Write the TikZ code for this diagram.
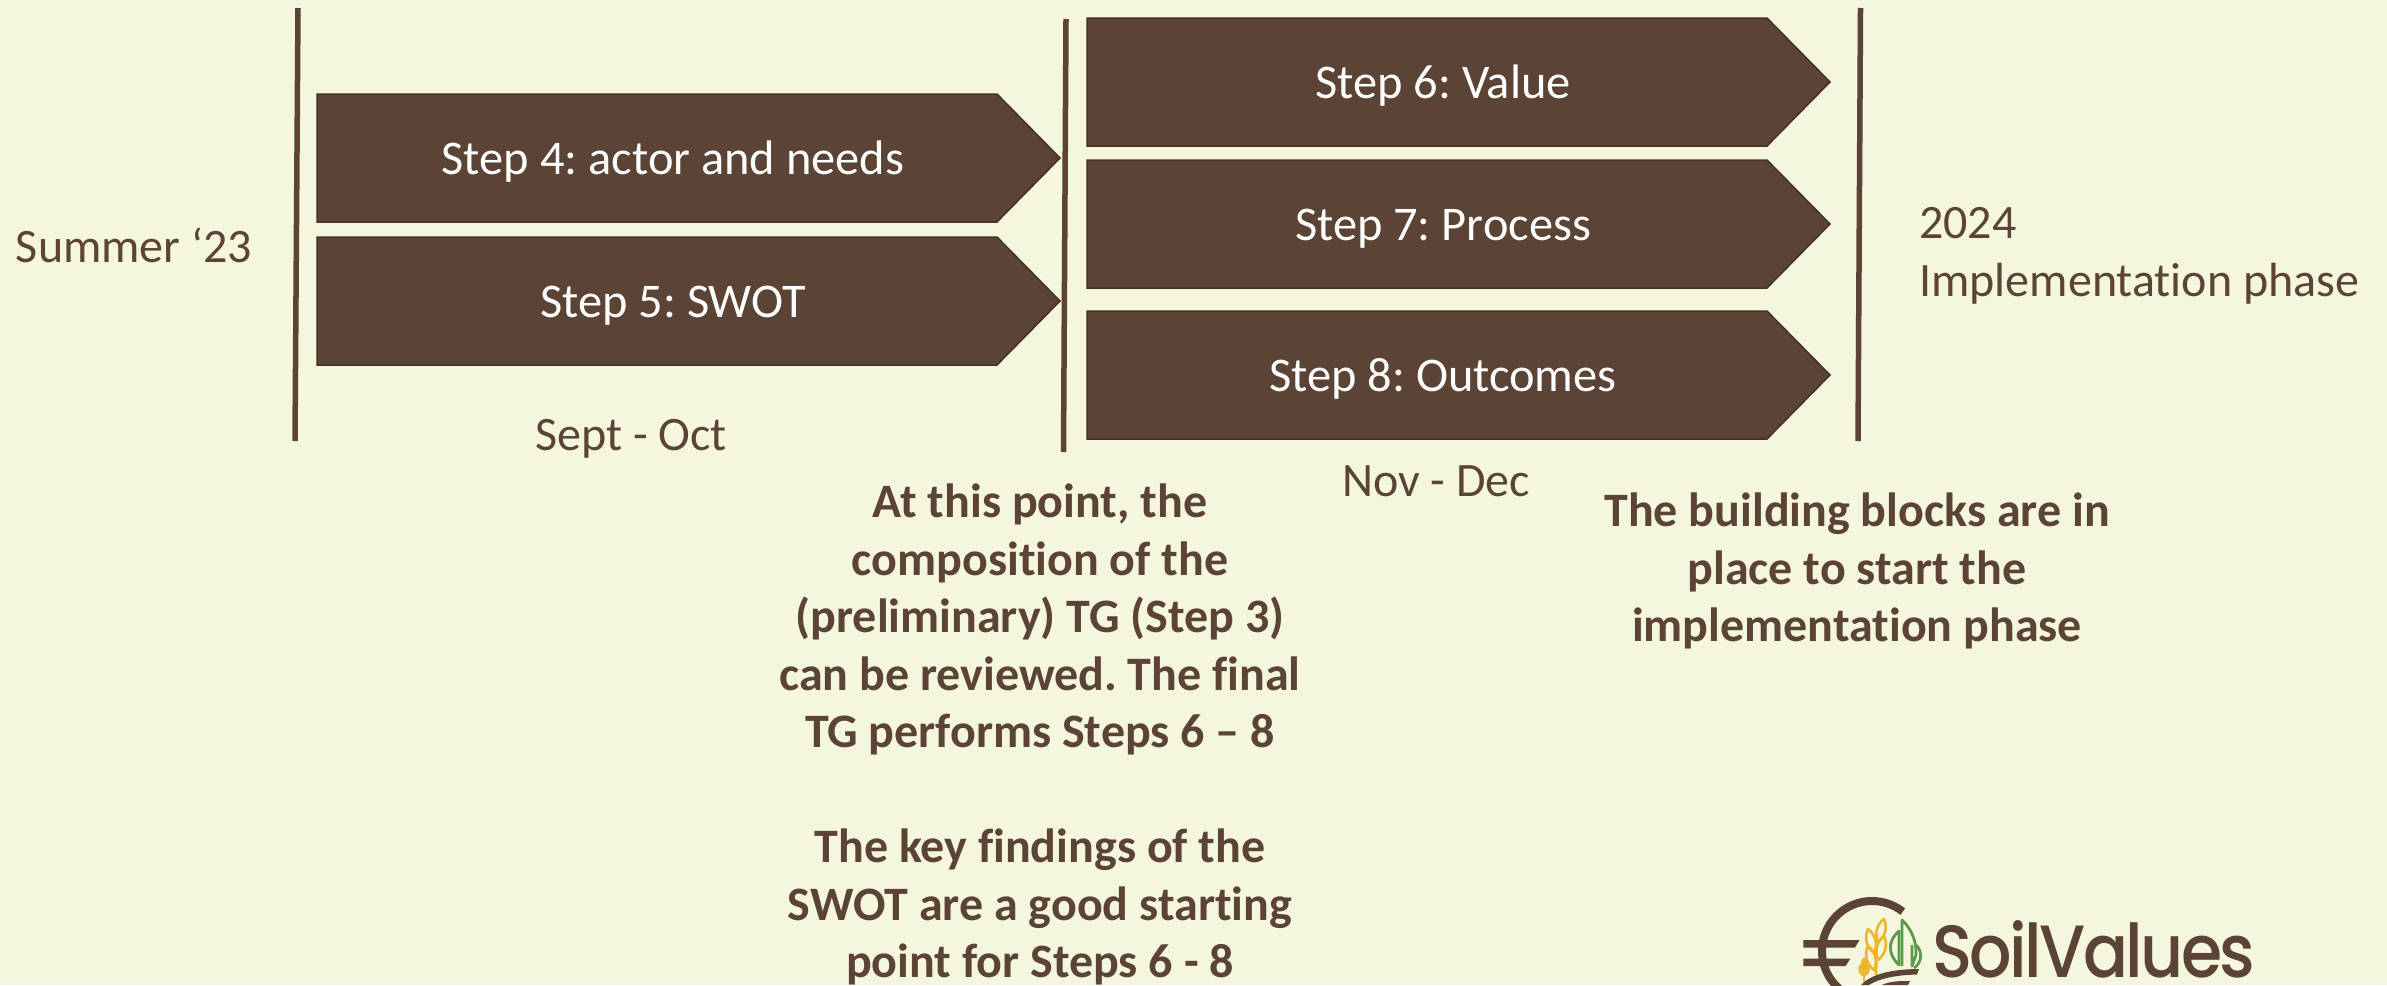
\documentclass[tikz,border=0pt]{standalone}
\usepackage{fontspec}
\setmainfont[Ligatures=CommonOff]{Carlito}
\newfontfamily\logofont[LetterSpace=-4]{Poppins Medium}
\definecolor{bgc}{HTML}{F4F7DC}
\definecolor{brn}{HTML}{5B4335}
\definecolor{brnd}{HTML}{453025}
\definecolor{wheat}{HTML}{EDB62B}
\definecolor{leaf}{HTML}{5E9A4E}
\tikzset{
  x=1pt,y=-1pt,
  stepbox/.style={fill=brn,draw=brnd,line width=1.5pt,line join=miter},
  steplabel/.style={text=white,font=\fontsize{48.4}{48}\selectfont,anchor=base,inner sep=0pt},
  plainlabel/.style={text=brn,font=\fontsize{48}{48}\selectfont,inner sep=0pt},
  notelabel/.style={text=brn,font=\fontsize{48}{57.5}\selectfont\bfseries,align=center,inner sep=0pt},
  divider/.style={draw=brn,line width=5.5pt},
  wheatline/.style={draw=wheat,line width=2.6pt,line join=round},
  leafline/.style={draw=leaf,line width=2.8pt,line join=round},
}
\newcommand{\stepshape}[7]{% name, left, top, bottom, shoulder, tip, text
  \draw[stepbox] (#2,#3) -- (#5,#3) -- (#6,{(#3+#4)/2}) -- (#5,#4) -- (#2,#4) -- cycle;
  \node[steplabel] (#1) at ({(#2+#5)/2+16},{(#3+#4)/2+16}) {#7};
}
\newcommand{\grain}[3]{\draw[wheatline] #1 to[bend left=#3] #2 to[bend left=#3] cycle;}
\begin{document}
\begin{tikzpicture}
\frenchspacing
\useasboundingbox (0,0) rectangle (2387,985);
\clip (0,0) rectangle (2387,985);
\fill[bgc] (0,0) rectangle (2387,985);
% dividers
\draw[divider] (298,8) -- (295,441);
\draw[divider] (1066,19) -- (1063.5,452);
\draw[divider] (1860.5,8) -- (1858,441);
% steps
\stepshape{s4}{317}{94}{222}{997}{1060}{Step 4: actor and needs}
\stepshape{s5}{317}{237}{365}{997}{1060}{Step 5: SWOT}
\stepshape{s6}{1087}{18}{146}{1767}{1830}{Step 6: Value}
\stepshape{s7}{1087}{160}{288}{1767}{1830}{Step 7: Process}
\stepshape{s8}{1087}{311}{439}{1767}{1830}{Step 8: Outcomes}
% labels
\node[plainlabel,anchor=center] (t1) at (134,245) {Summer ‘23};
\node[plainlabel,anchor=center] (t2) at (631,439) {Sept - Oct};
\node[plainlabel,anchor=center] (t3) at (1436,481) {Nov - Dec};
\node[plainlabel,anchor=west] (t4) at (1919,223) {2024};
\node[plainlabel,anchor=west] (t5) at (1919,284) {Implementation phase};
\node[notelabel,anchor=north] (n1) at (1040,484) {At this point, the\\composition of the\\(preliminary) TG (Step 3)\\can be reviewed. The final\\TG performs Steps 6 – 8\\[57.5pt]The key findings of the\\SWOT are a good starting\\point for Steps 6 - 8};
\node[notelabel,anchor=north] (n2) at (1857,493) {The building blocks are in\\place to start the\\implementation phase};
% logo wordmark
\node[text=brn,font=\logofont\fontsize{74}{74}\selectfont,anchor=base west,inner sep=0pt,xscale=.9,transform shape] (logo) at (1932,977.5) {SoilValues};
% logo euro sign
\begin{scope}[shift={(1872,951)},x=1pt,y=1pt]
\draw[brn,line width=8pt] (52:50) arc[start angle=52,end angle=240,radius=50pt];
\end{scope}
\fill[brn] (1803.3,940) -- (1859.5,940) -- (1855,947.5) -- (1803.3,947.5) -- cycle;
\fill[brn] (1803.3,958.5) -- (1850.5,958.5) -- (1845.5,966) -- (1803.3,966) -- cycle;
% wheat, tall
\draw[wheatline] (1876,975) -- (1877,935);
\grain{(1874,953)}{(1868,929)}{38}
\grain{(1874,970)}{(1868,946)}{38}
\grain{(1878,942)}{(1884,919)}{38}
\grain{(1878,960)}{(1884,936)}{38}
% wheat, small
\draw[wheatline] (1864,982) -- (1864,962);
\grain{(1863,975)}{(1860,966)}{38}
\grain{(1865,975)}{(1868,966)}{38}
\grain{(1864,968)}{(1864,959)}{45}
% trees
\draw[leafline] (1899,965) .. controls (1888,955) and (1887,941) .. (1899,931) -- cycle;
\draw[leafline] (1902,966) -- (1902,920) .. controls (1911,928) and (1917,942) .. (1916,955) -- (1912,966) -- (1912,945);
\draw[leafline] (1916,945) .. controls (1922,950) and (1923,962) .. (1914,968);
% field
\fill[brn] (1861,985) .. controls (1870,975) and (1890,969) .. (1919,969) -- (1917,974.5) .. controls (1895,975) and (1878,979) .. (1869,985) -- cycle;
\fill[brn] (1882,985) .. controls (1890,981) and (1900,981) .. (1910,981) -- (1908,985) -- cycle;
\end{tikzpicture}
\end{document}
